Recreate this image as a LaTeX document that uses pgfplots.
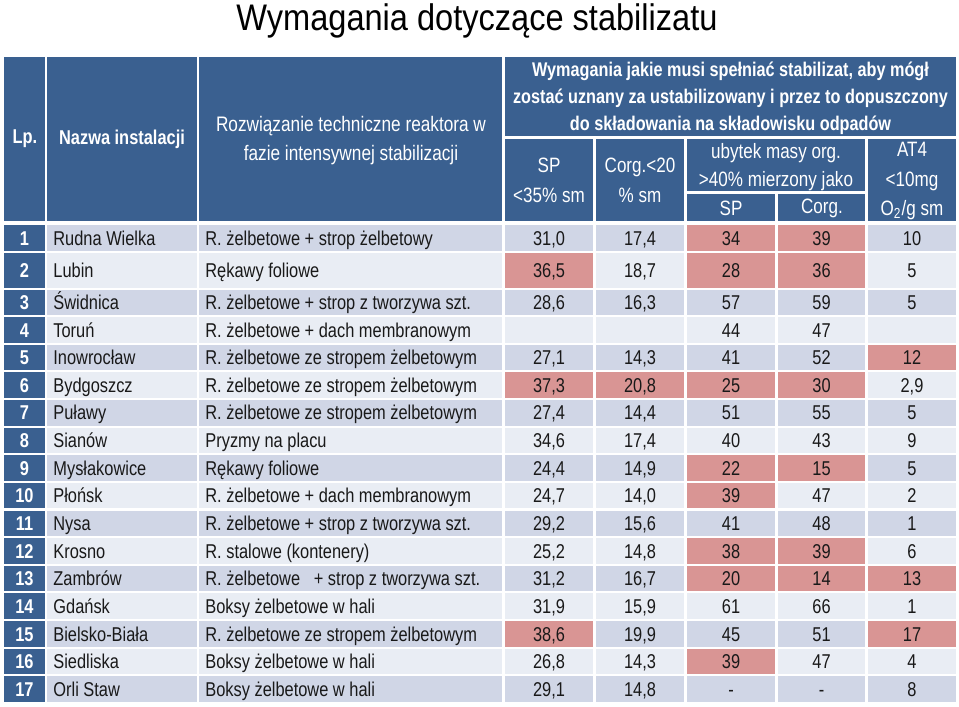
\documentclass[border=0pt]{standalone}
\usepackage{pgfplots}
\usepackage{pgfplotstable}
\pgfplotsset{compat=1.18}
\usepackage{fontspec}
\setmainfont[FakeStretch=0.82]{Liberation Sans}
\newfontfamily\titlefont[FakeStretch=0.88]{Liberation Sans}
\definecolor{hdr}{RGB}{58,96,144}
\definecolor{rowA}{RGB}{208,214,230}
\definecolor{rowB}{RGB}{233,237,244}
\definecolor{hl}{RGB}{217,149,148}
\definecolor{txt}{RGB}{25,25,25}

\pgfplotstableread[col sep=semicolon, row sep=\\]{
y;lp;name;tech;sp;corg;usp;ucorg;at4\\
238;1;Rudna Wielka;R. żelbetowe + strop żelbetowy;31,0;17,4;34;39;10\\
270.5;2;Lubin;Rękawy foliowe;36,5;18,7;28;36;5\\
302.5;3;Świdnica;R. żelbetowe + strop z tworzywa szt.;28,6;16,3;57;59;5\\
329.8;4;Toruń;R. żelbetowe + dach membranowym;{};{};44;47;{}\\
357.4;5;Inowrocław;R. żelbetowe ze stropem żelbetowym;27,1;14,3;41;52;12\\
385.1;6;Bydgoszcz;R. żelbetowe ze stropem żelbetowym;37,3;20,8;25;30;2,9\\
412.7;7;Puławy;R. żelbetowe ze stropem żelbetowym;27,4;14,4;51;55;5\\
440.4;8;Sianów;Pryzmy na placu;34,6;17,4;40;43;9\\
468.0;9;Mysłakowice;Rękawy foliowe;24,4;14,9;22;15;5\\
495.6;10;Płońsk;R. żelbetowe + dach membranowym;24,7;14,0;39;47;2\\
523.3;11;Nysa;R. żelbetowe + strop z tworzywa szt.;29,2;15,6;41;48;1\\
550.9;12;Krosno;R. stalowe (kontenery);25,2;14,8;38;39;6\\
578.6;13;Zambrów;R. żelbetowe \ \ + strop z tworzywa szt.;31,2;16,7;20;14;13\\
606.2;14;Gdańsk;Boksy żelbetowe w hali;31,9;15,9;61;66;1\\
633.8;15;Bielsko-Biała;R. żelbetowe ze stropem żelbetowym;38,6;19,9;45;51;17\\
661.5;16;Siedliska;Boksy żelbetowe w hali;26,8;14,3;39;47;4\\
689.1;17;Orli Staw;Boksy żelbetowe w hali;29,1;14,8;-;-;8\\
}\datatable

\begin{document}
\begin{tikzpicture}
\begin{scope}[x=0.5pt,y=-0.5pt]
\useasboundingbox (0,0) rectangle (959,707);
% title
\node[anchor=base, text=black, font=\titlefont\fontsize{18.5}{22}\selectfont] at (477,30.5) {Wymagania dotyczące stabilizatu};
% header cells
\fill[hdr] (4,57) rectangle (45,221);
\fill[hdr] (47,57) rectangle (197,221);
\fill[hdr] (199,57) rectangle (502,221);
\fill[hdr] (505,57) rectangle (956,136);
\fill[hdr] (505,139) rectangle (593,221);
\fill[hdr] (596,139) rectangle (684,221);
\fill[hdr] (687,139) rectangle (865,191);
\fill[hdr] (687,194) rectangle (775,221);
\fill[hdr] (778,194) rectangle (865,221);
\fill[hdr] (868,139) rectangle (956,221);
% row backgrounds
\foreach \t/\b/\c in {225/251/rowA, 253/288/rowB, 290/315/rowA, 317/342.6/rowB,
  344.6/370.2/rowA, 372.3/397.9/rowB, 399.9/425.5/rowA, 427.6/453.2/rowB,
  455.2/480.8/rowA, 482.8/508.4/rowB, 510.5/536.1/rowA, 538.1/563.7/rowB,
  565.8/591.4/rowA, 593.4/619.0/rowB, 621.0/646.6/rowA, 648.7/674.3/rowB,
  676.3/701.9/rowA}{
  \fill[hdr] (4,\t) rectangle (45,\b);
  \foreach \l/\r in {47/197, 199/502, 505/593, 596/684, 687/775, 778/865, 868/956}{
    \fill[\c] (\l,\t) rectangle (\r,\b);
  }
}
% highlighted cells
\foreach \l/\r/\t/\b in {687/775/225/251, 778/865/225/251,
  505/593/253/288, 687/775/253/288, 778/865/253/288,
  868/956/344.6/370.2,
  505/593/372.3/397.9, 596/684/372.3/397.9, 687/775/372.3/397.9, 778/865/372.3/397.9,
  687/775/455.2/480.8, 778/865/455.2/480.8,
  687/775/482.8/508.4,
  687/775/538.1/563.7, 778/865/538.1/563.7,
  687/775/565.8/591.4, 778/865/565.8/591.4, 868/956/565.8/591.4,
  505/593/621.0/646.6, 868/956/621.0/646.6,
  687/775/648.7/674.3}{
  \fill[hl] (\l,\t) rectangle (\r,\b);
}
% header texts
\begin{scope}[every node/.style={text=white, align=center, inner sep=0pt}]
\node[font=\bfseries\fontsize{10}{12}\selectfont] at (25,139) {Lp.};
\node[font=\bfseries\fontsize{10}{12}\selectfont] at (122,139) {Nazwa instalacji};
\node[font=\fontsize{10.5}{14.5}\selectfont] at (351,141) {Rozwiązanie techniczne reaktora w\\fazie intensywnej stabilizacji};
\node[font=\bfseries\fontsize{9.9}{13.5}\selectfont] at (730.5,98) {Wymagania jakie musi spełniać stabilizat, aby mógł\\zostać uznany za ustabilizowany i przez to dopuszczony\\do składowania na składowisku odpadów};
\node[font=\fontsize{10.4}{15}\selectfont] at (549,180) {SP\\<35\% sm};
\node[font=\fontsize{10.4}{15}\selectfont] at (640,180) {Corg.<20\\\% sm};
\node[font=\fontsize{10.4}{14}\selectfont] at (776,167) {ubytek masy org.\\>40\% mierzony jako};
\node[font=\fontsize{10.4}{12}\selectfont] at (731,208) {SP};
\node[font=\fontsize{10.4}{12}\selectfont] at (822,208) {Corg.};
\node[font=\fontsize{10.4}{14.7}\selectfont] at (912,181) {AT4\\<10mg\\O\textsubscript{2}/g sm};
\end{scope}
\end{scope}

\begin{axis}[at={(0,0)}, anchor=north west, x=0.5pt, y=0.5pt, y dir=reverse,
  xmin=0, xmax=959, ymin=0, ymax=707, enlargelimits=false, hide axis, clip=false,
  point meta=explicit symbolic,
  every node near coord/.append style={anchor=center, inner sep=0pt, text=txt,
    font=\fontsize{10}{12}\selectfont, text height=7.2pt, text depth=0pt},
]
\addplot[draw=none, mark=none, nodes near coords={\pgfplotspointmeta}, every node near coord/.append style={text=white, font=\bfseries\fontsize{10}{12}\selectfont}] table[x expr=24.5, y=y, meta=lp] {\datatable};
\addplot[draw=none, mark=none, nodes near coords={\pgfplotspointmeta}, every node near coord/.append style={anchor=west}] table[x expr=53, y=y, meta=name] {\datatable};
\addplot[draw=none, mark=none, nodes near coords={\pgfplotspointmeta}, every node near coord/.append style={anchor=west}] table[x expr=205, y=y, meta=tech] {\datatable};
\addplot[draw=none, mark=none, nodes near coords={\pgfplotspointmeta}] table[x expr=549, y=y, meta=sp] {\datatable};
\addplot[draw=none, mark=none, nodes near coords={\pgfplotspointmeta}] table[x expr=640, y=y, meta=corg] {\datatable};
\addplot[draw=none, mark=none, nodes near coords={\pgfplotspointmeta}] table[x expr=731, y=y, meta=usp] {\datatable};
\addplot[draw=none, mark=none, nodes near coords={\pgfplotspointmeta}] table[x expr=821.5, y=y, meta=ucorg] {\datatable};
\addplot[draw=none, mark=none, nodes near coords={\pgfplotspointmeta}] table[x expr=912, y=y, meta=at4] {\datatable};
\end{axis}
\end{tikzpicture}
\end{document}
